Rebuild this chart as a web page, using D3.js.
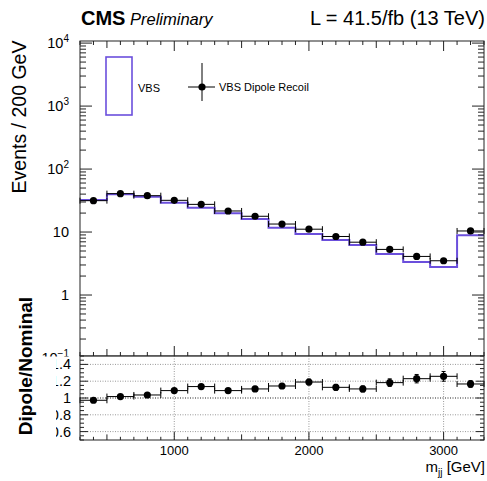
<!DOCTYPE html>
<html>
<head>
<meta charset="utf-8">
<script src="https://cdn.jsdelivr.net/npm/d3@7"></script>
<style>
  body { margin: 0; background: #fff; }
  text { font-family: "Liberation Sans", Arial, Helvetica, sans-serif; fill: #000; }
</style>
</head>
<body>
<div id="chart"></div>
<script>
// m_jj bins (GeV), 200 GeV wide
const binLow = [300, 500, 700, 900, 1100, 1300, 1500, 1700, 1900, 2100, 2300, 2500, 2700, 2900, 3100];
const binHigh = [500, 700, 900, 1100, 1300, 1500, 1700, 1900, 2100, 2300, 2500, 2700, 2900, 3100, 3300];

// events per bin
const dipoleEvents = [31.5, 40.7, 37.8, 31.9, 27.5, 21.6, 17.8, 13.4, 11.1, 8.5, 6.9, 5.3, 4.1, 3.5, 10.4];
const nominalEvents = [32.4, 40.0, 36.5, 29.3, 24.2, 19.9, 16.1, 11.7, 9.3, 7.5, 6.2, 4.5, 3.33, 2.78, 8.9];

// ratio panel
const ratioValues = [0.973, 1.017, 1.036, 1.088, 1.136, 1.088, 1.108, 1.143, 1.19, 1.127, 1.108, 1.183, 1.23, 1.258, 1.167];
const ratioErrors = [0.02, 0.02, 0.02, 0.02, 0.025, 0.025, 0.03, 0.03, 0.035, 0.035, 0.035, 0.045, 0.05, 0.058, 0.04];

const decadeLabels = [
  {v: 1e4, base: "10", exp: "4"},
  {v: 1e3, base: "10", exp: "3"},
  {v: 1e2, base: "10", exp: "2"},
  {v: 10, base: "10", exp: ""},
  {v: 1, base: "1", exp: ""},
  {v: 0.1, base: "10", exp: "\u22121"}
];
const ratioLabels = [0.6, 0.8, 1, 1.2, 1.4];
const massLabels = [1000, 2000, 3000];

const W = 487, H = 481;
const left = 80, right = 484;
const topY = 41, midY = 356, botY = 440;
const histColor = "#6b4fdc";

const svg = d3.select("#chart").append("svg")
    .attr("width", W)
    .attr("height", H);

svg.append("rect").attr("width", W).attr("height", H).attr("fill", "#fff");

const x = d3.scaleLinear().domain([300, 3300]).range([left, right]);
const y = d3.scaleLog().domain([0.1, 1.08e4]).range([358, topY]);
const yr = d3.scaleLinear().domain([0.5, 1.5]).range([botY, midY]);

// ---- upper pad ----
const up = svg.append("g");

// histogram (nominal)
const stepPts = binLow.map((lo, i) => [lo, nominalEvents[i]]);
stepPts.push([binHigh[binHigh.length - 1], nominalEvents[nominalEvents.length - 1]]);
up.append("path")
    .attr("d", d3.line().x(d => x(d[0])).y(d => y(d[1])).curve(d3.curveStepAfter)(stepPts))
    .attr("fill", "none")
    .attr("stroke", histColor)
    .attr("stroke-width", 2);

// dipole points with horizontal bars
function drawPoints(g, vals, ys, errs) {
  vals.forEach((v, i) => {
    const cx = x((binLow[i] + binHigh[i]) / 2);
    const cy = ys(v);
    g.append("line").attr("x1", x(binLow[i])).attr("x2", x(binHigh[i]))
        .attr("y1", cy).attr("y2", cy).attr("stroke", "#000").attr("stroke-width", 1);
    [binLow[i], binHigh[i]].forEach(e => {
      g.append("line").attr("x1", x(e)).attr("x2", x(e))
          .attr("y1", cy - 3).attr("y2", cy + 3).attr("stroke", "#000").attr("stroke-width", 1);
    });
    if (errs) {
      const y1 = ys(v + errs[i]), y2 = ys(v - errs[i]);
      g.append("line").attr("x1", cx).attr("x2", cx).attr("y1", y1).attr("y2", y2)
          .attr("stroke", "#000").attr("stroke-width", 1);
      [y1, y2].forEach(yy => g.append("line").attr("x1", cx - 2).attr("x2", cx + 2)
          .attr("y1", yy).attr("y2", yy).attr("stroke", "#000").attr("stroke-width", 1));
    }
    g.append("circle").attr("cx", cx).attr("cy", cy).attr("r", 3.6).attr("fill", "#000");
  });
}
drawPoints(up, dipoleEvents, y, null);

// frame + ticks
up.append("rect").attr("x", left).attr("y", topY).attr("width", right - left).attr("height", midY - topY)
    .attr("fill", "none").attr("stroke", "#222").attr("stroke-width", 1);

function xTickLen(t, big) {
  if (t % 1000 === 0) return big;
  if (t % 500 === 0) return big * 0.7;
  return big * 0.4;
}
x.ticks(30).forEach(t => {
  const px = x(t);
  const l = xTickLen(t, 10);
  up.append("line").attr("x1", px).attr("x2", px).attr("y1", topY).attr("y2", topY + l).attr("stroke", "#222");
  up.append("line").attr("x1", px).attr("x2", px).attr("y1", midY).attr("y2", midY - l).attr("stroke", "#222");
});
y.ticks().forEach(t => {
  const py = y(t);
  if (py < topY || py > midY) return;
  const major = Math.abs(Math.log10(t) - Math.round(Math.log10(t))) < 1e-6;
  const l = major ? 12 : 6;
  up.append("line").attr("x1", left).attr("x2", left + l).attr("y1", py).attr("y2", py).attr("stroke", "#222");
  up.append("line").attr("x1", right).attr("x2", right - l).attr("y1", py).attr("y2", py).attr("stroke", "#222");
});

decadeLabels.forEach(d => {
  const t = up.append("text")
      .attr("x", 69).attr("y", y(d.v) + 5)
      .attr("text-anchor", "end")
      .style("font-size", "14.5px");
  t.append("tspan").text(d.base);
  if (d.exp) t.append("tspan").attr("dy", -6).style("font-size", "10px").text(d.exp);
});

// legend
up.append("rect").attr("x", 106).attr("y", 57).attr("width", 26).attr("height", 58)
    .attr("fill", "none").attr("stroke", histColor).attr("stroke-width", 1.6);
up.append("text").attr("x", 138).attr("y", 92).style("font-size", "11px").text("VBS");
up.append("line").attr("x1", 188).attr("x2", 215).attr("y1", 87).attr("y2", 87).attr("stroke", "#000");
up.append("line").attr("x1", 202).attr("x2", 202).attr("y1", 63).attr("y2", 101).attr("stroke", "#000");
up.append("circle").attr("cx", 202).attr("cy", 87).attr("r", 3.6).attr("fill", "#000");
up.append("text").attr("x", 219).attr("y", 91).style("font-size", "11px").text("VBS Dipole Recoil");

// ---- ratio pad ----
svg.append("rect").attr("x", 40).attr("y", midY + 0.5).attr("width", W - 40).attr("height", H - midY)
    .attr("fill", "#fff");
const lo = svg.append("g");

ratioLabels.forEach(v => {
  lo.append("line").attr("x1", left).attr("x2", right).attr("y1", yr(v)).attr("y2", yr(v))
      .attr("stroke", v === 1 ? "#222" : "#999").attr("stroke-width", 1)
      .attr("stroke-dasharray", "1,1.5");
});
massLabels.forEach(v => {
  lo.append("line").attr("x1", x(v)).attr("x2", x(v)).attr("y1", midY).attr("y2", botY)
      .attr("stroke", "#999").attr("stroke-width", 1).attr("stroke-dasharray", "1,1.5");
});

drawPoints(lo, ratioValues, yr, ratioErrors);

lo.append("rect").attr("x", left).attr("y", midY).attr("width", right - left).attr("height", botY - midY)
    .attr("fill", "none").attr("stroke", "#222").attr("stroke-width", 1);

yr.ticks(20).forEach(t => {
  const py = yr(t);
  const major = Math.abs(t * 5 - Math.round(t * 5)) < 1e-6;
  const l = major ? 8 : 4;
  lo.append("line").attr("x1", left).attr("x2", left + l).attr("y1", py).attr("y2", py).attr("stroke", "#222");
  lo.append("line").attr("x1", right).attr("x2", right - l).attr("y1", py).attr("y2", py).attr("stroke", "#222");
});
x.ticks(30).forEach(t => {
  const px = x(t);
  const l = xTickLen(t, 8);
  lo.append("line").attr("x1", px).attr("x2", px).attr("y1", botY).attr("y2", botY - l).attr("stroke", "#222");
});

// ratio labels are cut on the left, as in the original pad
svg.append("clipPath").attr("id", "ratioClip")
  .append("rect").attr("x", 56).attr("y", midY + 1).attr("width", W).attr("height", H - midY);
const rl = lo.append("g").attr("clip-path", "url(#ratioClip)");
ratioLabels.forEach(v => {
  rl.append("text").attr("x", 71).attr("y", yr(v) + 5)
      .attr("text-anchor", "end").style("font-size", "14.5px")
      .text(d3.format(".1f")(v).replace(/\.0$/, ""));
});

massLabels.forEach(v => {
  svg.append("text").attr("x", x(v)).attr("y", 455)
      .attr("text-anchor", "middle").style("font-size", "13px").text(v);
});

const xt = svg.append("text").attr("x", 485).attr("y", 472)
    .attr("text-anchor", "end").style("font-size", "15px");
xt.append("tspan").text("m");
xt.append("tspan").attr("dy", 4).style("font-size", "10px").text("jj");
xt.append("tspan").attr("dy", -4).text(" [GeV]");

// ---- titles ----
svg.append("text")
    .attr("transform", "translate(25.5,117) rotate(-90)")
    .attr("text-anchor", "middle")
    .style("font-size", "19.5px")
    .text("Events / 200 GeV");
svg.append("text")
    .attr("transform", "translate(32,366) rotate(-90)")
    .attr("text-anchor", "middle")
    .style("font-size", "19px").style("font-weight", "bold")
    .text("Dipole/Nominal");

svg.append("text").attr("x", 81).attr("y", 25)
    .style("font-size", "20px").style("font-weight", "bold").text("CMS");
svg.append("text").attr("x", 130).attr("y", 25)
    .style("font-size", "16.5px").style("font-style", "italic").text("Preliminary");
svg.append("text").attr("x", 485).attr("y", 25)
    .attr("text-anchor", "end").style("font-size", "20px").text("L = 41.5/fb (13 TeV)");
</script>
</body>
</html>
